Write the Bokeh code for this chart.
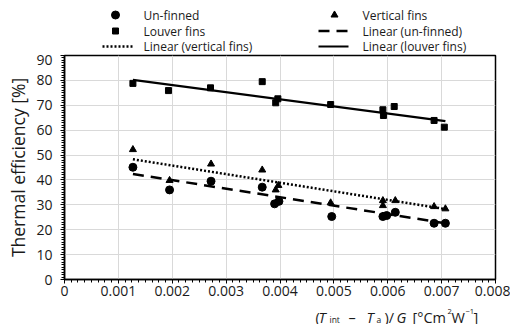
from bokeh.plotting import figure
from bokeh.layouts import column
from bokeh.models import Range1d, SingleIntervalTicker, CustomJSTickFormatter
from bokeh.core.properties import value
from bokeh.embed import file_html
from bokeh.resources import INLINE

# ---- data ----
unfinned_x = [0.00127, 0.00195, 0.00272, 0.00367, 0.00390, 0.00398, 0.00496, 0.00591, 0.00598, 0.00614, 0.00686, 0.00707]
unfinned_y = [45.1, 36.0, 39.5, 37.1, 30.4, 31.4, 25.3, 25.3, 25.7, 27.0, 22.6, 22.6]

louver_x = [0.00127, 0.00193, 0.00271, 0.00367, 0.00392, 0.00396, 0.00494, 0.00591, 0.00592, 0.00612, 0.00686, 0.00705]
louver_y = [78.8, 75.9, 77.0, 79.5, 71.0, 72.6, 70.3, 68.2, 65.9, 69.5, 63.9, 61.2]

vertical_x = [0.00127, 0.00195, 0.00272, 0.00367, 0.00392, 0.00397, 0.00494, 0.00591, 0.00591, 0.00614, 0.00686, 0.00707]
vertical_y = [52.2, 39.8, 46.4, 44.0, 36.0, 37.8, 30.8, 31.7, 29.7, 31.7, 29.3, 28.4]

fit_x = [0.00127, 0.00707]
fit_unfinned = [42.4, 22.6]
fit_vertical = [48.3, 28.3]
fit_louver = [80.2, 63.6]

legend_labels_left = ["Un-finned", "Louver fins", "Linear (vertical fins)"]
legend_labels_right = ["Vertical fins", "Linear (un-finned)", "Linear (louver fins)"]
y_label = "Thermal efficiency [%]"

FONT = "Open Sans"
TXT = "#1a1a1a"
W = 510
LEFT, FW, FH = 64, 431, 224

# styles shared by the plot and its key
CIRCLE = dict(marker="circle", size=8, color="black")
SQUARE = dict(marker="square", size=6, color="black")
TRI = dict(marker="triangle", size=7, color="black")
SOLID = dict(line_color="black", line_width=2.2)
DASH = dict(line_color="black", line_width=2.5, line_dash="11 7")
DOT = dict(line_color="black", line_width=2.5, line_dash="2 2")

# ---------------- key (legend) strip ----------------
LH = 54
lg = figure(width=W, height=LH, x_range=Range1d(LEFT, LEFT + FW), y_range=Range1d(0, LH),
            x_axis_type=None, y_axis_type=None, min_border=0,
            output_backend="svg", toolbar_location=None)
lg.outline_line_color = None
lg.grid.visible = False
rows = [39.5, 23.5, 8]
c1x0, c2x0, gw = 102, 318, 30
lg.scatter([c1x0 + 13], [rows[0]], **CIRCLE)
lg.scatter([c1x0 + 13], [rows[1]], **SQUARE)
lg.line([c1x0, c1x0 + gw], [rows[2], rows[2]], **DOT)
lg.scatter([c2x0 + 16], [rows[0]], **TRI)
lg.line([c2x0, c2x0 + gw], [rows[1], rows[1]], **DASH)
lg.line([c2x0, c2x0 + gw], [rows[2], rows[2]], **SOLID)
lg.text([c1x0 + 41] * 3, rows, text=legend_labels_left, text_font=value(FONT),
        text_font_size=value("12px"), text_color=TXT, text_baseline="middle")
lg.text([c2x0 + 44] * 3, rows, text=legend_labels_right, text_font=value(FONT),
        text_font_size=value("12px"), text_color=TXT, text_baseline="middle")

# ---------------- main plot ----------------
p = figure(frame_width=FW, frame_height=FH,
           min_border_left=LEFT, min_border_right=W - LEFT - FW, min_border_top=1, min_border_bottom=26,
           x_range=Range1d(0, 0.008), y_range=Range1d(0, 90),
           output_backend="svg", toolbar_location=None)

p.outline_line_color = "black"
p.outline_line_width = 1.5

p.xaxis.ticker = SingleIntervalTicker(interval=0.001, num_minor_ticks=8)
p.yaxis.ticker = SingleIntervalTicker(interval=10, num_minor_ticks=10)
p.xaxis.formatter = CustomJSTickFormatter(code="return tick.toFixed(3).replace(/\\.?0+$/, '')")

for ax in (p.xaxis, p.yaxis):
    ax.axis_line_color = "black"
    ax.axis_line_width = 1.5
    ax.major_tick_line_color = "black"
    ax.minor_tick_line_color = "black"
    ax.major_tick_out = 4
    ax.major_tick_in = 0
    ax.minor_tick_out = 3
    ax.minor_tick_in = 0
    ax.major_label_text_font = FONT
    ax.major_label_text_font_size = "14px"
    ax.major_label_text_color = TXT

p.xaxis.major_label_standoff = 2
p.yaxis.major_label_standoff = 8
p.yaxis.axis_label = y_label
p.yaxis.axis_label_text_font = FONT
p.yaxis.axis_label_text_font_size = "17.5px"
p.yaxis.axis_label_text_font_style = "normal"
p.yaxis.axis_label_text_color = TXT
p.yaxis.axis_label_standoff = 3

p.xgrid.grid_line_color = "#d9d9d9"
p.ygrid.grid_line_color = "#d9d9d9"

p.line(fit_x, fit_louver, **SOLID)
p.line(fit_x, fit_unfinned, **DASH)
p.line(fit_x, fit_vertical, **DOT)
p.scatter(unfinned_x, unfinned_y, **CIRCLE)
p.scatter(louver_x, louver_y, **SQUARE)
p.scatter(vertical_x, vertical_y, **TRI)

# ---------------- x-axis title strip ----------------
BH = 19
lb = figure(width=W, height=BH, x_range=Range1d(LEFT, LEFT + FW), y_range=Range1d(0, BH),
            x_axis_type=None, y_axis_type=None, min_border=0,
            output_backend="svg", toolbar_location=None)
lb.outline_line_color = None
lb.grid.visible = False
base = 7
pieces = [  # text, x, dy, size, style
    ("(", 315, 0, "14.5px", "normal"),
    ("T", 318, 0, "14.5px", "italic"),
    ("int", 329, -2, "8.5px", "normal"),
    ("\u2013", 348, 0, "14.5px", "normal"),
    ("T", 366, 0, "14.5px", "italic"),
    ("a", 376, -2, "8.5px", "normal"),
    (")/", 384, 0, "14.5px", "normal"),
    ("G", 396, 0, "14.5px", "italic"),
    ("[\u00b0Cm", 412, 0, "14.5px", "normal"),
    ("2", 447, 6, "7.5px", "normal"),
    ("W", 451, 0, "14.5px", "normal"),
    ("\u22121", 465, 6, "7.5px", "normal"),
    ("]", 473, 0, "14.5px", "normal"),
]
for t, x, dy, sz, st in pieces:
    lb.text([x], [base + dy], text=[t], text_font=value(FONT), text_font_size=value(sz),
            text_font_style=st, text_color=TXT, text_baseline="alphabetic", text_align="left")

layout = column(lg, p, lb, spacing=0)
open("out.html", "w").write(file_html(layout, INLINE))
